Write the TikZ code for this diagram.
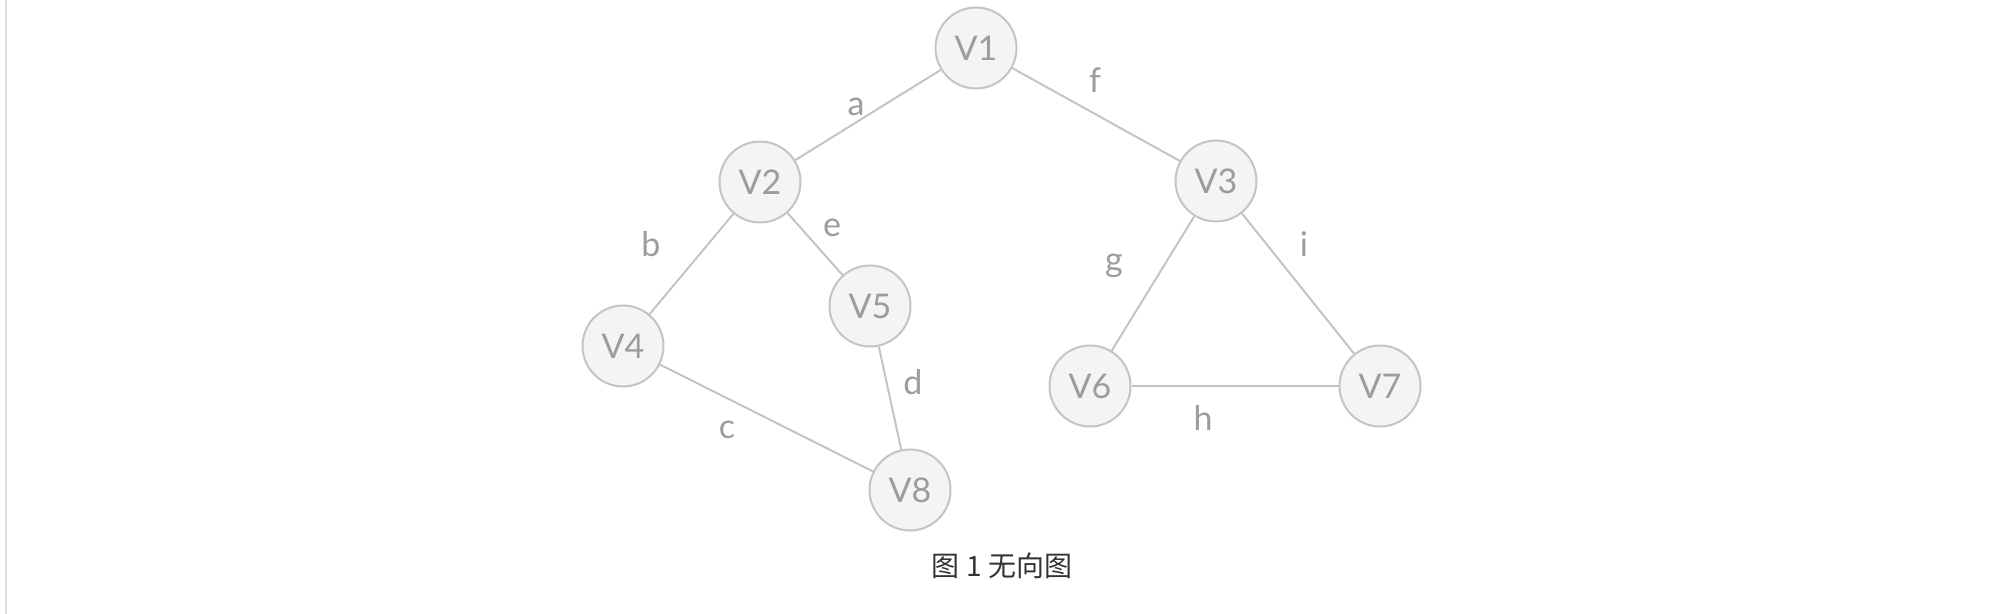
\documentclass[tikz,border=0pt]{standalone}
\usepackage{fontspec}
\setmainfont{Lato}
\newfontfamily\cjk{Noto Sans CJK SC}
\definecolor{vfill}{HTML}{F4F4F4}
\definecolor{vline}{HTML}{C4C4C4}
\definecolor{vtext}{HTML}{9C9C9C}
\definecolor{captext}{HTML}{333333}
\definecolor{sidebar}{HTML}{DEDEDE}
\tikzset{
	vertex/.style={circle,draw=vline,fill=vfill,line width=1pt,minimum size=40.5pt,inner sep=0pt,text=vtext,font=\fontsize{17}{19}\selectfont},
	edgelbl/.style={text=vtext,inner sep=0pt,font=\fontsize{17}{19}\selectfont},
	link/.style={draw=vline,line width=1pt}
}
\begin{document}
\begin{tikzpicture}[x=0.5pt,y=-0.5pt]
		\useasboundingbox (0,0) rectangle (2004,614);
		\draw[sidebar,line width=1pt] (6,0) -- (6,614);
		
		\node[vertex] (v1) at (976,48) {V1};
		\node[vertex] (v2) at (760,182) {V2};
		\node[vertex] (v3) at (1216,181) {V3};
		\node[vertex] (v4) at (623,346) {V4};
		\node[vertex] (v5) at (870,306) {V5};
		\node[vertex] (v6) at (1090,386) {V6};
		\node[vertex] (v7) at (1380,386) {V7};
		\node[vertex] (v8) at (910,490) {V8};
		
		\draw[link] (v1) -- (v2);
		\draw[link] (v2) -- (v4);
		\draw[link] (v4) -- (v8);
		\draw[link] (v5) -- (v8);
		\draw[link] (v2) -- (v5);
		\draw[link] (v1) -- (v3);
		\draw[link] (v3) -- (v6);
		\draw[link] (v6) -- (v7);
		\draw[link] (v3) -- (v7);
		
		\node[edgelbl] (la) at (856,107) {a};
		\node[edgelbl] (lb) at (651,244) {b};
		\node[edgelbl] (lc) at (727,430) {c};
		\node[edgelbl] (ld) at (913,382) {d};
		\node[edgelbl] (le) at (832,228) {e};
		\node[edgelbl] (lf) at (1095,80) {f};
		\node[edgelbl] (lg) at (1114,266) {g};
		\node[edgelbl] (lh) at (1203,418) {h};
		\node[edgelbl] (li) at (1304,244) {i};
		
		\node[text=captext,inner sep=0pt,font=\cjk\fontsize{14}{16}\selectfont] (cap) at (1002,566) {图 1 无向图};
	\end{tikzpicture}
\end{document}
